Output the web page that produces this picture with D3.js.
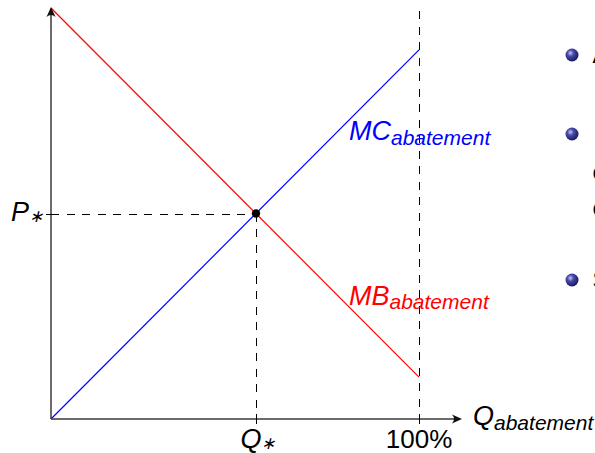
<!DOCTYPE html>
<html>
<head>
<meta charset="utf-8">
<script src="https://cdn.jsdelivr.net/npm/d3@7"></script>
<style>
  body { margin: 0; background: #fff; }
  svg { display: block; }
  text { font-family: "Liberation Sans", Arial, sans-serif; }
</style>
</head>
<body>
<script>
// abatement market: marginal cost vs marginal benefit (quantity in %, price in arbitrary units)
var mcPoints = [[0, 0], [100, 89.8]];
var mbPoints = [[0, 100], [100, 10.2]];
var qStar = 55.7;
var pStar = 50;
var xTicks = [qStar, 100];
var xTickLabels = ["Q*", "100%"];

var W = 595, H = 453;

var svg = d3.select("body").append("svg")
    .attr("width", W)
    .attr("height", H);

var defs = svg.append("defs");
var grad = defs.append("radialGradient")
    .attr("id", "ball")
    .attr("cx", "0.38").attr("cy", "0.35").attr("r", "0.7");
grad.append("stop").attr("offset", "0").attr("stop-color", "#c8c8f0");
grad.append("stop").attr("offset", "0.35").attr("stop-color", "#4a4ab0");
grad.append("stop").attr("offset", "1").attr("stop-color", "#141450");

var x = d3.scaleLinear().domain([0, 100]).range([51, 419]);
var y = d3.scaleLinear().domain([0, 100]).range([419, 8]);

var line = d3.line()
    .x(function (d) { return x(d[0]); })
    .y(function (d) { return y(d[1]); });

var g = svg.append("g").attr("class", "graf");

// dashed guides
var dash = "8,7.5";
function guide(x1, y1, x2, y2) {
    g.append("line")
        .attr("x1", x1).attr("x2", x2)
        .attr("y1", y1).attr("y2", y2)
        .attr("stroke", "#000").attr("stroke-width", 1)
        .attr("shape-rendering", "crispEdges")
        .attr("stroke-dasharray", dash);
}
guide(x(100) + 0.5, y(100) + 3, x(100) + 0.5, y(0));
guide(x(0), y(pStar) + 0.5, x(qStar), y(pStar) + 0.5);
guide(x(qStar) + 0.5, y(pStar), x(qStar) + 0.5, y(0));

// curves
g.append("path").datum(mbPoints)
    .attr("d", line)
    .attr("fill", "none").attr("stroke", "#ff0000").attr("stroke-width", 1.2);
g.append("path").datum(mcPoints)
    .attr("d", line)
    .attr("fill", "none").attr("stroke", "#0000ff").attr("stroke-width", 1.2);

// axes
var axisCol = "#3a3a3a";
g.append("line")
    .attr("x1", x(0)).attr("x2", 457)
    .attr("y1", y(0)).attr("y2", y(0))
    .attr("stroke", axisCol).attr("stroke-width", 1.5);
g.append("line")
    .attr("x1", x(0)).attr("x2", x(0))
    .attr("y1", y(0)).attr("y2", 12)
    .attr("stroke", axisCol).attr("stroke-width", 1.5);
g.append("path")
    .attr("d", "M" + x(0) + ",7 L" + (x(0) - 4.5) + ",17 Q" + x(0) + ",13 " + (x(0) + 4.5) + ",17 Z")
    .attr("fill", "#111");
g.append("path")
    .attr("d", "M462," + y(0) + " L452," + (y(0) - 4.5) + " Q456," + y(0) + " 452," + (y(0) + 4.5) + " Z")
    .attr("fill", "#111");

// ticks
xTicks.forEach(function (t) {
    g.append("line")
        .attr("x1", x(t) + 0.5).attr("x2", x(t) + 0.5)
        .attr("y1", y(0) - 5).attr("y2", y(0) + 5)
        .attr("shape-rendering", "crispEdges")
        .attr("stroke", "#000").attr("stroke-width", 1);
});
g.append("line")
    .attr("x1", x(0) - 5).attr("x2", x(0) + 5)
    .attr("y1", y(pStar) + 0.5).attr("y2", y(pStar) + 0.5)
    .attr("shape-rendering", "crispEdges")
    .attr("stroke", "#000").attr("stroke-width", 1);

// equilibrium point
g.append("circle")
    .attr("cx", x(qStar)).attr("cy", y(pStar)).attr("r", 4.2)
    .attr("fill", "#000");

// labels
function mathLabel(px, py, main, sub, color, size, subSize, subDy, anchor) {
    var t = svg.append("text")
        .attr("x", px).attr("y", py)
        .attr("fill", color)
        .attr("text-anchor", anchor || "start")
        .style("font-size", size + "px")
        .style("font-style", "italic");
    t.append("tspan").text(main);
    t.append("tspan").attr("dy", subDy).style("font-size", subSize + "px").text(sub);
    return t;
}

mathLabel(11, 221, "P", "\u2217", "#000", 27, 17, 1);
mathLabel(x(qStar) + 2, 448, "Q", "\u2217", "#000", 27, 17, 1, "middle");
svg.append("text")
    .attr("x", x(100)).attr("y", 448)
    .attr("text-anchor", "middle")
    .style("font-size", "26px")
    .text(xTickLabels[1]);
mathLabel(473, 425, "Q", "abatement", "#000", 27, 21, 5);
mathLabel(349, 140, "MC", "abatement", "#0000ff", 27, 21, 5);
mathLabel(349, 305, "MB", "abatement", "#ff0000", 27, 21, 4);

// slide bullets on the right (text runs off the edge)
var bullets = [55, 134, 280];
bullets.forEach(function (by) {
    svg.append("circle")
        .attr("cx", 572).attr("cy", by).attr("r", 6.5)
        .attr("fill", "url(#ball)");
});
var sideText = [["A", 63], ["e", 180], ["e", 216], ["S", 288]];
sideText.forEach(function (d) {
    svg.append("text")
        .attr("x", 592.5).attr("y", d[1])
        .style("font-size", "24px")
        .attr("fill", "#000")
        .text(d[0]);
});
</script>
</body>
</html>
